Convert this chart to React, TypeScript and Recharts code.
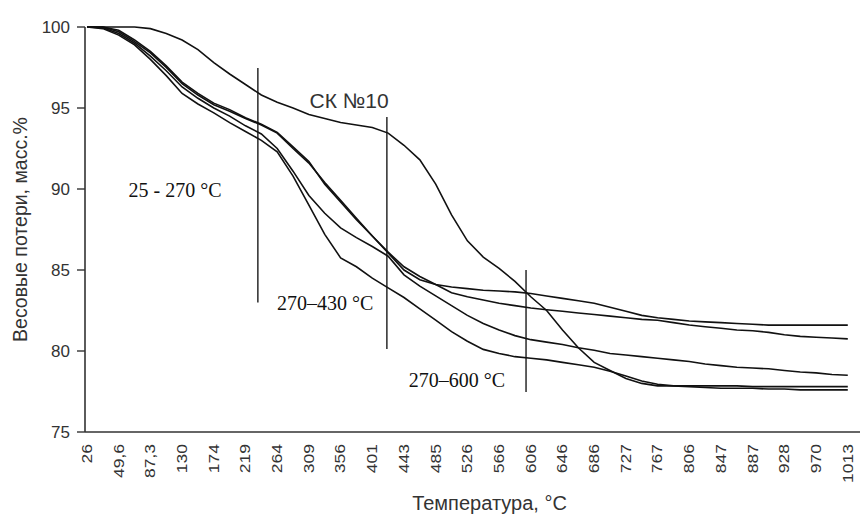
import React from "react";
import { Line, LineChart, ReferenceDot, ReferenceLine, XAxis, YAxis } from "recharts";

const tempLabels = [
  "26", "49,6", "87,3", "130", "174", "219", "264", "309", "356", "401", "443", "485", "526",
  "566", "606", "646", "686", "727", "767", "806", "847", "887", "928", "970", "1013"
];

// positions along the category axis (label index), half-step sampling
const pointPos = [
  0, 0.5, 1, 1.5, 2, 2.5, 3, 3.5, 4, 4.5, 5, 5.5, 6, 6.5, 7, 7.5, 8, 8.5, 9, 9.5,
  10, 10.5, 11, 11.5, 12, 12.5, 13, 13.5, 14, 14.5, 15, 15.5, 16, 16.5, 17, 17.5, 18, 18.5, 19, 19.5,
  20, 20.5, 21, 21.5, 22, 22.5, 23, 23.5, 24
];

const sampleA = [
  100, 100, 99.8, 99.2, 98.5, 97.6, 96.6, 95.9, 95.3, 94.9,
  94.4, 94.0, 93.5, 92.6, 91.7, 90.3, 89.2, 88.1, 87.1, 86.05,
  85.0, 84.4, 84.1, 83.95, 83.85, 83.75, 83.7, 83.65, 83.55, 83.4,
  83.25, 83.1, 82.95, 82.7, 82.45, 82.2, 82.05, 81.95, 81.85, 81.8,
  81.75, 81.7, 81.65, 81.6, 81.6, 81.6, 81.6, 81.6, 81.6
];
const sampleB = [
  100, 100, 99.7, 99.1, 98.4, 97.5, 96.5, 95.8, 95.2, 94.8,
  94.35, 93.95, 93.45, 92.5, 91.6, 90.4, 89.3, 88.2, 87.1, 86.1,
  85.2, 84.6, 84.1, 83.6, 83.35, 83.15, 82.95, 82.8, 82.65, 82.55,
  82.45, 82.35, 82.25, 82.15, 82.05, 81.95, 81.9, 81.75, 81.6, 81.5,
  81.4, 81.3, 81.25, 81.15, 81.0, 80.9, 80.85, 80.8, 80.75
];
const sampleC = [
  100, 99.95, 99.6, 99.0, 98.2, 97.3, 96.3, 95.6, 95.0, 94.5,
  93.9, 93.4, 92.5, 91.1, 89.6, 88.5, 87.6, 87.0, 86.45, 85.85,
  84.7, 84.0, 83.4, 82.8, 82.2, 81.7, 81.3, 80.95, 80.7, 80.55,
  80.4, 80.2, 80.05, 79.85, 79.75, 79.65, 79.55, 79.45, 79.35, 79.2,
  79.1, 79.0, 78.95, 78.9, 78.8, 78.7, 78.65, 78.55, 78.5
];
const sampleD = [
  100, 99.9, 99.5, 98.9, 98.0, 97.0, 95.9, 95.25, 94.7, 94.1,
  93.55, 93.0, 92.3, 90.8, 89.0, 87.2, 85.75, 85.2, 84.5, 83.9,
  83.3, 82.6, 81.9, 81.2, 80.6, 80.1, 79.85, 79.65, 79.55, 79.45,
  79.3, 79.15, 79.0, 78.75, 78.45, 78.15, 77.95, 77.85, 77.8, 77.75,
  77.7, 77.7, 77.7, 77.65, 77.65, 77.6, 77.6, 77.6, 77.6
];
const sampleSK10 = [
  100, 100, 100, 100, 99.9, 99.6, 99.2, 98.6, 97.8, 97.1,
  96.45, 95.8, 95.35, 95.0, 94.6, 94.35, 94.1, 93.95, 93.8, 93.45,
  92.7, 91.8, 90.3, 88.4, 86.8, 85.8, 85.1, 84.3, 83.35, 82.5,
  81.3, 80.2, 79.3, 78.8, 78.3, 78.0, 77.85, 77.85, 77.85, 77.85,
  77.85, 77.85, 77.8, 77.8, 77.8, 77.8, 77.8, 77.8, 77.8
];

const seriesKeys = ["a", "b", "c", "d", "sk10"];
const seriesValues = [sampleA, sampleB, sampleC, sampleD, sampleSK10];

// stage boundaries: position on axis, top and bottom value
const boundaryPos = [5.39, 9.46, 13.85];
const boundaryTop = [97.47, 94.44, 85.0];
const boundaryBottom = [83.0, 80.12, 77.47];

const noteTexts = ["СК №10", "25 - 270 °C", "270–430 °C", "270–600 °C"];
const notePos = [8.27, 2.78, 7.51, 11.67];
const noteValue = [95.0, 89.5, 82.53, 77.78];
const noteSerif = [false, true, true, true];

const yTicks = [75, 80, 85, 90, 95, 100];
const xTicks = tempLabels.map((_, i) => i);

const data = pointPos.map((pos, i) => {
  const row: Record<string, number> = { pos };
  seriesKeys.forEach((k, s) => {
    row[k] = seriesValues[s][i];
  });
  return row;
});

const SANS = "'Liberation Sans', Arial, sans-serif";
const SERIF = "'Liberation Serif', 'Times New Roman', serif";
const INK = "#2a2a2a";

function TempTick({ x, y, payload }: any) {
  return (
    <text
      transform={`translate(${x},${y + 12}) rotate(-90) scale(1,0.8)`}
      textAnchor="end"
      dominantBaseline="central"
      fontSize={17.5}
      fontFamily={SANS}
      fill="#333"
    >
      {tempLabels[payload.value]}
    </text>
  );
}

function NoteLabel({ viewBox, text, serif }: any) {
  const cx = viewBox.x + viewBox.width / 2;
  const cy = viewBox.y + viewBox.height / 2;
  return (
    <text
      x={cx}
      y={cy}
      textAnchor="middle"
      fontSize={serif ? 20 : 21}
      fontFamily={serif ? SERIF : SANS}
      fill={serif ? "#111" : "#333"}
    >
      {text}
    </text>
  );
}

export default function App() {
  return (
    <div style={{ position: "absolute", left: 0, top: 0, background: "#fff" }}>
      <LineChart width={863} height={516} data={data} margin={{ top: 27, right: 3, bottom: 0, left: 0 }}>
        <XAxis
          dataKey="pos"
          type="number"
          domain={[-0.063, 24.385]}
          ticks={xTicks}
          interval={0}
          allowDataOverflow
          height={84}
          tickLine={false}
          tickSize={0}
          tickMargin={0}
          tick={<TempTick />}
          axisLine={{ stroke: "#333", strokeWidth: 1.6 }}
          label={{
            content: (p: any) => (
              <text
                x={p.viewBox.x + p.viewBox.width / 2 + 17}
                y={p.viewBox.y + 78}
                textAnchor="middle"
                fontSize={20}
                fontFamily={SANS}
                fill="#333"
              >
                Температура, °C
              </text>
            )
          }}
        />
        <YAxis
          type="number"
          domain={[75, 100]}
          ticks={yTicks}
          interval={0}
          width={85}
          tickSize={8}
          tickMargin={7}
          tick={{ fontSize: 17, fontFamily: SANS, fill: "#333" }}
          tickLine={{ stroke: "#333", strokeWidth: 1.4 }}
          axisLine={{ stroke: "#333", strokeWidth: 1.6 }}
          label={{
            content: (p: any) => {
              const cx = 20;
              const cy = p.viewBox.y + p.viewBox.height / 2;
              return (
                <text
                  x={cx}
                  y={cy}
                  transform={`rotate(-90, ${cx}, ${cy})`}
                  textAnchor="middle"
                  dominantBaseline="central"
                  fontSize={19.5}
                  fontFamily={SANS}
                  fill="#333"
                >
                  Весовые потери, масс.%
                </text>
              );
            }
          }}
        />
        {boundaryPos.map((pos, i) => (
          <ReferenceLine
            key={`b${i}`}
            segment={[
              { x: pos, y: boundaryTop[i] },
              { x: pos, y: boundaryBottom[i] }
            ]}
            stroke={INK}
            strokeWidth={1.5}
          />
        ))}
        {seriesKeys.map((k) => (
          <Line
            key={k}
            dataKey={k}
            type="linear"
            stroke="#111"
            strokeWidth={1.6}
            dot={false}
            activeDot={false}
            isAnimationActive={false}
          />
        ))}
        {noteTexts.map((t, i) => (
          <ReferenceDot
            key={`n${i}`}
            x={notePos[i]}
            y={noteValue[i]}
            r={1}
            fill="none"
            stroke="none"
            label={<NoteLabel text={t} serif={noteSerif[i]} />}
          />
        ))}
      </LineChart>
    </div>
  );
}
